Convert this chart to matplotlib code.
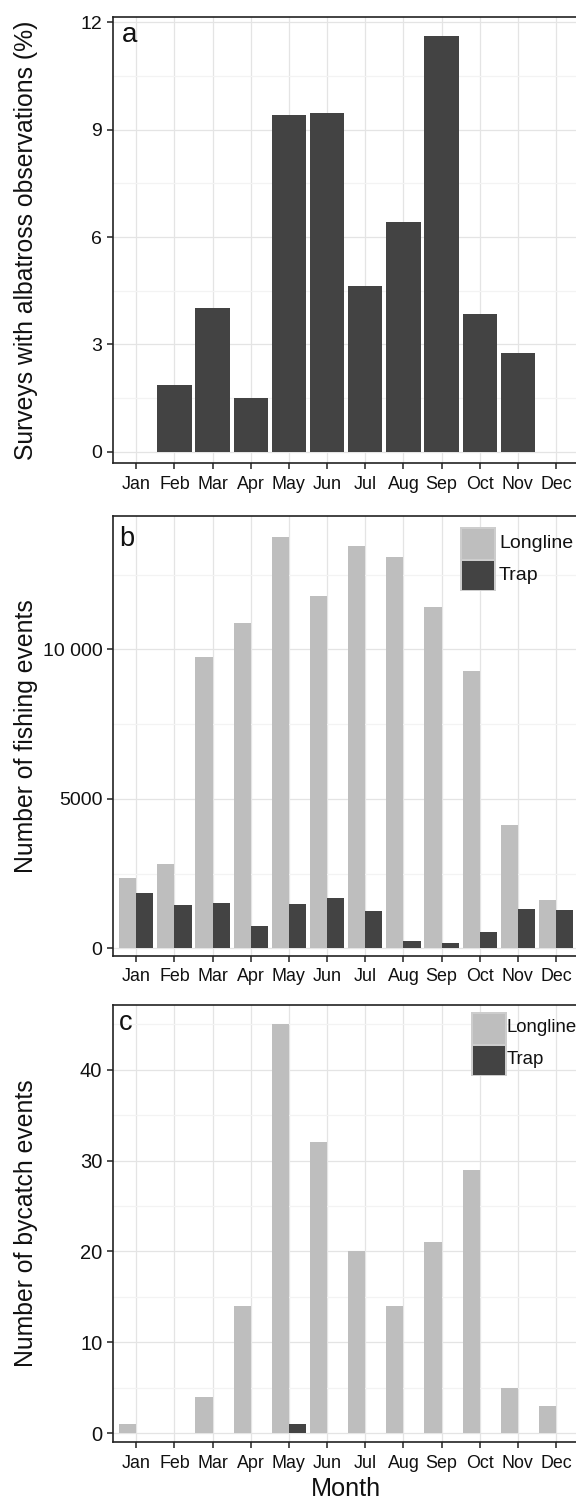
import matplotlib
matplotlib.use('Agg')
import matplotlib.pyplot as plt
from matplotlib.patches import Rectangle
from matplotlib.transforms import ScaledTranslation, offset_copy
import numpy as np

plt.rcParams['font.family'] = ['Liberation Sans', 'DejaVu Sans']

# ---------------- data ----------------
months = ['Jan', 'Feb', 'Mar', 'Apr', 'May', 'Jun', 'Jul', 'Aug', 'Sep', 'Oct', 'Nov', 'Dec']
survey_pct = [0, 1.87, 4.02, 1.51, 9.41, 9.46, 4.63, 6.42, 11.62, 3.86, 2.77, 0]
fishing_longline = [2340, 2830, 9750, 10890, 13770, 11780, 13450, 13090, 11415, 9275, 4124, 1605]
fishing_trap = [1840, 1459, 1515, 740, 1471, 1672, 1237, 244, 177, 530, 1314, 1275]
bycatch_longline = [1, 0, 4, 14, 45, 32, 20, 14, 21, 29, 5, 3]
bycatch_trap = [0, 0, 0, 0, 1, 0, 0, 0, 0, 0, 0, 0]
series_names = ['Longline', 'Trap']
a_ticks = [0, 3, 6, 9, 12]
a_minor = [1.5, 4.5, 7.5, 10.5]
b_ticks = [0, 5000, 10000]
b_ticklabels = ['0', '5000', '10 000']
b_minor = [2500, 7500, 12500]
c_ticks = [0, 10, 20, 30, 40]
c_minor = [5, 15, 25, 35, 45]

C_LONG = '#bebebe'
C_TRAP = '#434343'
C_A = '#434343'

W, H = 576, 1500
fig = plt.figure(figsize=(W / 100, H / 100), dpi=100)


def rect_px(left, top, right, bottom):
    return [left / W, 1 - bottom / H, (right - left) / W, (bottom - top) / H]


def style(ax, ylim, major, minor, yfs, ylabel, dy_px, yticklabels=None):
    ax.set_xlim(0.4, 12.6)
    ax.set_ylim(*ylim)
    ax.set_xticks(np.arange(1, 13))
    ax.set_xticklabels(months, fontsize=12.9, color='#111111')
    ax.set_yticks(major)
    if yticklabels is not None:
        ax.set_yticklabels(yticklabels)
    ax.set_yticks(minor, minor=True)
    for lab in ax.get_yticklabels():
        lab.set_fontsize(yfs)
        lab.set_color('#111111')
        lab.set_transform(lab.get_transform() + ScaledTranslation(0, -dy_px / 100, fig.dpi_scale_trans))
    ax.grid(which='major', color='#e4e4e4', lw=0.9)
    ax.grid(which='minor', axis='y', color='#f3f3f3', lw=0.9)
    ax.set_axisbelow(True)
    ax.tick_params(which='minor', length=0)
    ax.tick_params(which='major', length=4.3, width=1.1, direction='out', color='#222222')
    ax.tick_params(axis='y', pad=3.6)
    ax.tick_params(axis='x', pad=4.8)
    for s in ax.spines.values():
        s.set_linewidth(1.2)
        s.set_color('#222222')
    ax.set_ylabel(ylabel, fontsize=17.8, color='#111111')
    ax.yaxis.label.set_va('baseline')
    ax.yaxis.set_label_coords((33.3 - 113.3) / (579 - 113.3), 0.5)


def legend_px(x0, y0, text_x, ys, fs):
    # light-grey border around the key column
    fig.add_artist(Rectangle((x0 / W, 1 - (y0 + 64.5) / H), 36 / W, 64.5 / H,
                             transform=fig.transFigure, facecolor='#cdcdcd', edgecolor='none'))
    cols = [C_LONG, C_TRAP]
    tops = [y0 + 1.8, y0 + 33.8]
    hs = [30.2, 29.0]
    for col, t, h in zip(cols, tops, hs):
        fig.add_artist(Rectangle(((x0 + 1.8) / W, 1 - (t + h) / H), 32.4 / W, h / H,
                                 transform=fig.transFigure, facecolor=col, edgecolor='none'))
    for name, yc in zip(series_names, ys):
        fig.text(text_x / W, 1 - yc / H, name, fontsize=fs, va='center', ha='left', color='#111111')


x = np.arange(1, 13)

# ---------------- panel a ----------------
axa = fig.add_axes(rect_px(113.3, 17, 579, 463.3))
axa.bar(x, survey_pct, width=0.9, color=C_A, edgecolor='none', zorder=2)
style(axa, (-0.324, 12.15), a_ticks, a_minor, 14, 'Surveys with albatross observations (%)', -6)

# ---------------- panel b ----------------
axb = fig.add_axes(rect_px(113.3, 516, 579, 955.7))
axb.bar(x - 0.225, fishing_longline, width=0.45, color=C_LONG, edgecolor='none', zorder=2, label=series_names[0])
axb.bar(x + 0.225, fishing_trap, width=0.45, color=C_TRAP, edgecolor='none', zorder=2, label=series_names[1])
style(axb, (-247, 14458), b_ticks, b_minor, 14, 'Number of fishing events', 1, b_ticklabels)
legend_px(460, 526.7, 499, [543, 576], 14)

# ---------------- panel c ----------------
axc = fig.add_axes(rect_px(113.3, 1005, 579, 1442.3))
axc.bar(x - 0.225, bycatch_longline, width=0.45, color=C_LONG, edgecolor='none', zorder=2, label=series_names[0])
axc.bar(x + 0.225, bycatch_trap, width=0.45, color=C_TRAP, edgecolor='none', zorder=2, label=series_names[1])
style(axc, (-0.97, 47.09), c_ticks, c_minor, 14.5, 'Number of bycatch events', 15)
legend_px(470.7, 1011.7, 507, [1028, 1060], 13.4)
axc.set_xlabel('Month', fontsize=18.2, color='#111111')
axc.xaxis.label.set_va('baseline')
axc.xaxis.set_label_coords(0.5, (1442.3 - 1495.5) / (1442.3 - 1005))

# panel letters (offsets in pixels from top-left of each panel)
for ax, letter, dx, dy, fs in [(axa, 'a', 9, 24.7, 20), (axb, 'b', 5.5, 29.7, 19.5), (axc, 'c', 6, 25, 19.5)]:
    tr = offset_copy(ax.transAxes, fig=fig, x=dx * 0.72, y=-dy * 0.72, units='points')
    ax.text(0, 1, letter, fontsize=fs, ha='left', va='baseline', transform=tr, color='#111111')

fig.savefig('out.png', dpi=100)
